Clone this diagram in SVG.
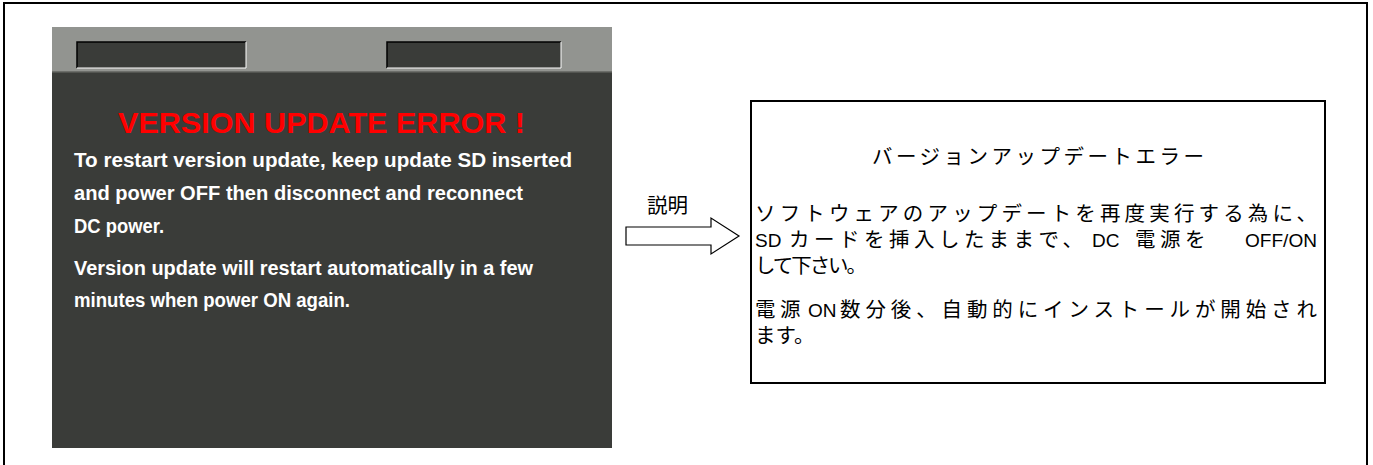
<svg xmlns="http://www.w3.org/2000/svg" width="1373" height="465" viewBox="0 0 1373 465">
<style>
.en{font-family:"Liberation Sans",Arial,sans-serif;font-weight:bold;}
.wt{fill:#ffffff;font-size:20px;}
.jp{font-family:"Liberation Sans","Noto Sans CJK JP",sans-serif;font-size:20.5px;fill:#000;}
.la{font-size:19px;}
.sp{letter-spacing:4.5px;}
.slot{fill:#3a3c39;}
</style>
<rect x="0" y="0" width="1373" height="465" fill="#ffffff"/>
<rect id="frame" x="4" y="3" width="1363" height="470" fill="none" stroke="#000" stroke-width="2"/>
<g id="screen">
<rect x="52" y="27" width="560" height="421" fill="#3a3c39"/>
<rect x="52" y="27" width="560" height="45" fill="#929490"/>
<rect x="52" y="71" width="560" height="1.5" fill="#6c6e6a"/>
<rect class="slot" x="77" y="42" width="169" height="26"/>
<path d="M77 68 V42 H246" fill="none" stroke="#000" stroke-width="1.5"/>
<path d="M77 68 H246 V42" fill="none" stroke="#fff" stroke-width="1"/>
<rect class="slot" x="387" y="42" width="174" height="26"/>
<path d="M387 68 V42 H561" fill="none" stroke="#000" stroke-width="1.5"/>
<path d="M387 68 H561 V42" fill="none" stroke="#fff" stroke-width="1"/>
<text class="en" x="118" y="133" font-size="30" fill="#ff0000" textLength="407" lengthAdjust="spacingAndGlyphs">VERSION UPDATE ERROR !</text>
<text class="en wt" x="74" y="167" textLength="498" lengthAdjust="spacingAndGlyphs">To restart version update, keep update SD inserted</text>
<text class="en wt" x="74" y="200" textLength="449" lengthAdjust="spacingAndGlyphs">and power OFF then disconnect and reconnect</text>
<text class="en wt" x="74" y="233" textLength="90" lengthAdjust="spacingAndGlyphs">DC power.</text>
<text class="en wt" x="74" y="275" textLength="459" lengthAdjust="spacingAndGlyphs">Version update will restart automatically in a few</text>
<text class="en wt" x="74" y="307" textLength="276" lengthAdjust="spacingAndGlyphs">minutes when power ON again.</text>
</g>
<g id="connector">
<text class="jp" x="647" y="213" font-size="21">説明</text>
<path d="M626 227 H711 V218 L739 236 L711 254 V245 H626 Z" fill="#fff" stroke="#000" stroke-width="1.2"/>
</g>
<g id="explanation">
<rect x="751" y="101" width="574" height="282" fill="#fff" stroke="#000" stroke-width="2"/>
<text class="jp" x="872" y="164" textLength="332" lengthAdjust="spacing">バージョンアップデートエラー</text>
<text class="jp" x="755" y="221" textLength="562" lengthAdjust="spacing">ソフトウェアのアップデートを再度実行する為に、</text>
<text class="jp" y="247"><tspan x="755" class="la">SD</tspan><tspan x="789" class="sp">カードを挿入したままで、</tspan><tspan x="1092" class="la">DC</tspan><tspan x="1135" class="sp">電源を</tspan><tspan x="1245" class="la" textLength="72" lengthAdjust="spacingAndGlyphs">OFF/ON</tspan></text>
<text class="jp" x="755" y="273" textLength="112" lengthAdjust="spacing">して下さい。</text>
<text class="jp" y="317"><tspan x="755" class="sp">電源</tspan><tspan x="808" class="la">ON</tspan><tspan x="840" textLength="477" lengthAdjust="spacing">数分後、自動的にインストールが開始され</tspan></text>
<text class="jp" x="755" y="343">ます。</text>
</g>
</svg>
